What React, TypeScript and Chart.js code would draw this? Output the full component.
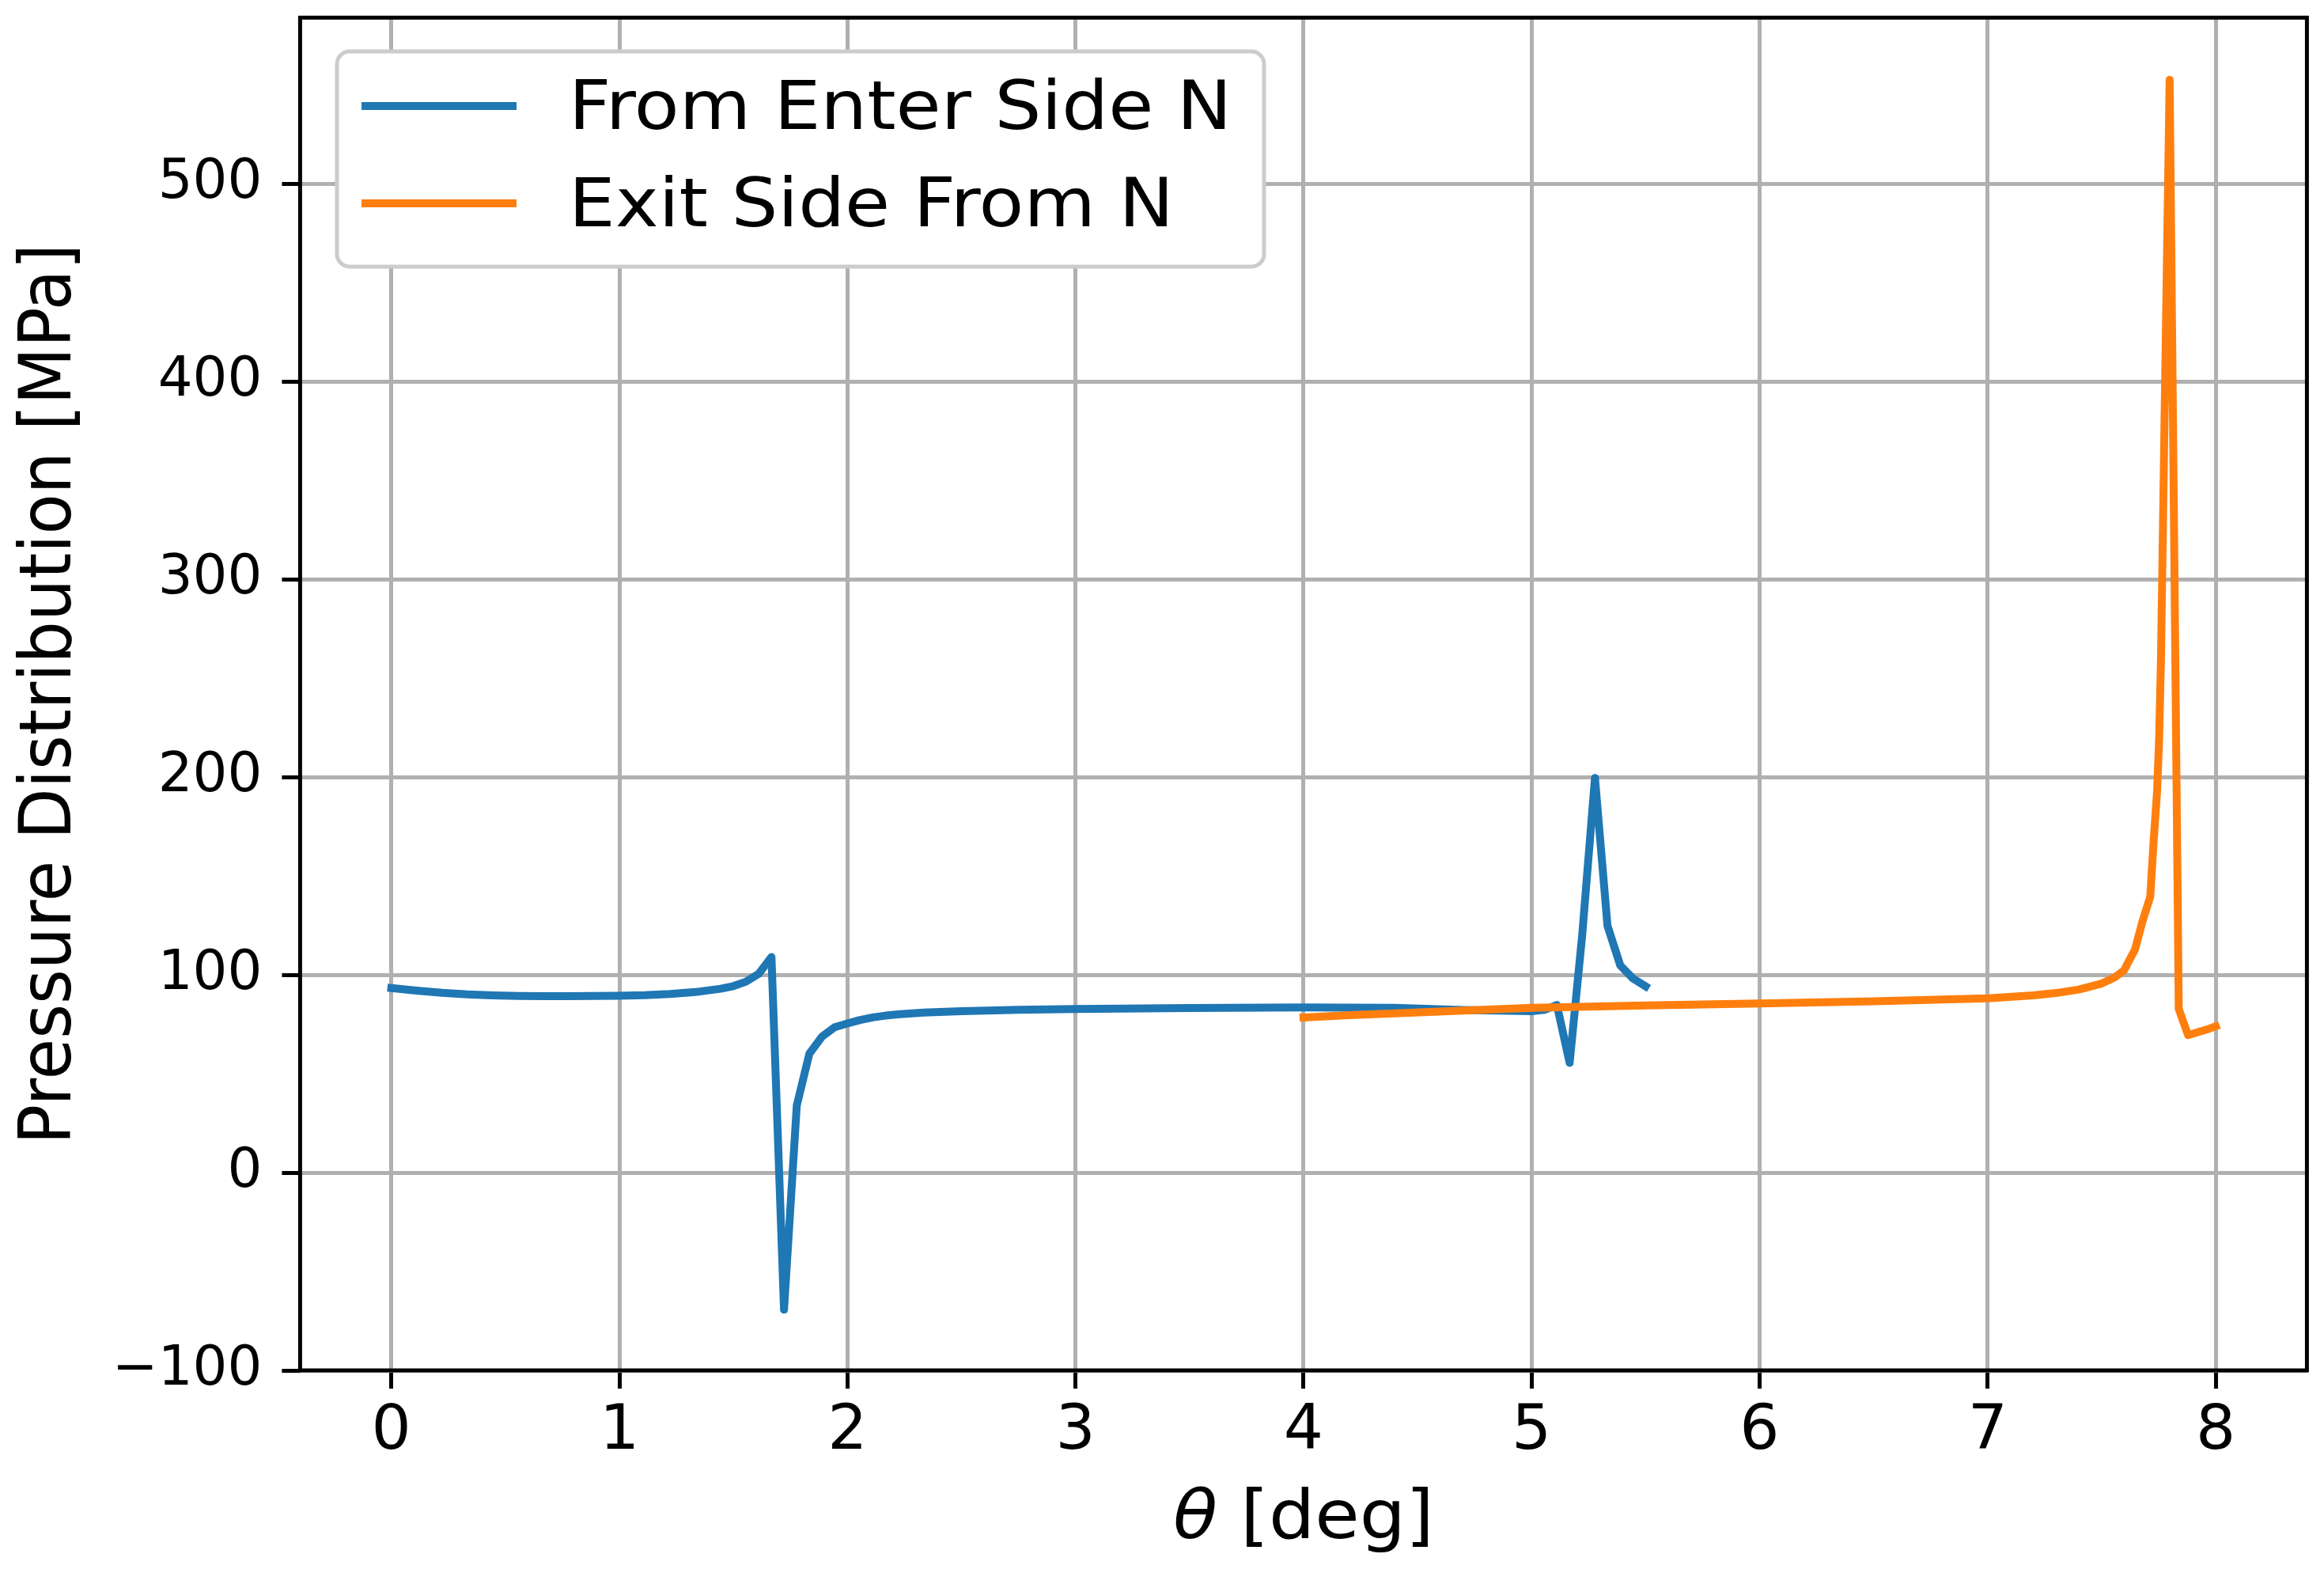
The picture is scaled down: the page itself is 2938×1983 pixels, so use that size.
import React, { useEffect, useRef } from "react";
import { Chart, registerables } from "chart.js";

Chart.register(...registerables);

// ---------------- data ----------------
const blueTheta = [
  0, 0.111, 0.222, 0.333, 0.444, 0.556, 0.667, 0.778, 0.889, 1.0, 1.111, 1.222, 1.333, 1.444, 1.5, 1.556,
  1.611, 1.667, 1.722, 1.778, 1.833, 1.889, 1.944, 2.0, 2.056, 2.111, 2.167, 2.222, 2.333, 2.5, 2.75, 3.0,
  3.5, 4.0, 4.4, 4.7, 5.0, 5.056, 5.111, 5.167, 5.222, 5.278, 5.333, 5.389, 5.444, 5.5,
];
const bluePressure = [
  93.3, 92.0, 90.9, 90.1, 89.6, 89.3, 89.2, 89.2, 89.3, 89.4, 89.7, 90.3, 91.3, 93.0, 94.3, 96.6,
  100.5, 109.0, -69.3, 34.0, 60.1, 68.8, 73.5, 75.4, 77.2, 78.5, 79.4, 80.0, 80.9, 81.6, 82.3, 82.7,
  83.2, 83.5, 83.3, 82.2, 81.6, 82.3, 84.8, 55.5, 120.0, 199.6, 124.8, 104.8, 98.2, 94.2,
];

const orangeTheta = [
  4.0, 4.2, 4.4, 4.7, 5.0, 5.5, 6.0, 6.5, 7.0, 7.2, 7.3, 7.4, 7.5, 7.556, 7.597, 7.646, 7.677, 7.713,
  7.727, 7.743, 7.752, 7.76, 7.798, 7.838, 7.879, 7.919, 7.96, 8.0,
];
const orangePressure = [
  78.4, 79.6, 80.5, 81.9, 83.3, 84.5, 85.5, 86.6, 88.1, 89.6, 90.8, 92.6, 95.6, 98.6, 102.1, 112.8, 126.2,
  139.5, 166.2, 192.8, 219.5, 259.5, 552.6, 82.8, 69.5, 70.9, 72.3, 74.0,
];

const seriesLabels = ["From Enter Side N", "Exit Side From N"];
const seriesColors = ["#1f77b4", "#ff7f0e"];
const xTickValues = [0, 1, 2, 3, 4, 5, 6, 7, 8];
const yTickValues = [-100, 0, 100, 200, 300, 400, 500];
const xTitleSymbol = "θ";
const xTitleRest = " [deg]";
const yTitle = "Pressure Distribution [MPa]";

// ---------------- layout constants ----------------
const W = 2938;
const H = 1983;
const FONT = "'DejaVu Sans'";
const STRETCH = 1.08;
const LINE_W = 10;

function drawStretched(
  ctx: CanvasRenderingContext2D,
  text: string,
  x: number,
  y: number,
  font: string
) {
  ctx.save();
  ctx.font = font;
  ctx.textAlign = "left";
  ctx.textBaseline = "alphabetic";
  ctx.translate(x, y);
  ctx.scale(STRETCH, 1);
  ctx.fillText(text, 0, 0);
  ctx.restore();
}

function roundRect(ctx: CanvasRenderingContext2D, x: number, y: number, w: number, h: number, r: number) {
  ctx.beginPath();
  ctx.moveTo(x + r, y);
  ctx.lineTo(x + w - r, y);
  ctx.arcTo(x + w, y, x + w, y + r, r);
  ctx.lineTo(x + w, y + h - r);
  ctx.arcTo(x + w, y + h, x + w - r, y + h, r);
  ctx.lineTo(x + r, y + h);
  ctx.arcTo(x, y + h, x, y + h - r, r);
  ctx.lineTo(x, y + r);
  ctx.arcTo(x, y, x + r, y, r);
  ctx.closePath();
}

const decorPlugin = {
  id: "decor",
  afterDraw(chart: any) {
    const ctx: CanvasRenderingContext2D = chart.ctx;
    const a = chart.chartArea;
    ctx.save();

    // frame (spines)
    ctx.strokeStyle = "#000000";
    ctx.lineWidth = 5;
    ctx.lineJoin = "miter";
    ctx.strokeRect(a.left, a.top, a.right - a.left, a.bottom - a.top);

    // legend box
    const lx = 426, ly = 65, lw = 1598 - 426, lh = 337 - 65;
    roundRect(ctx, lx, ly, lw, lh, 16);
    ctx.fillStyle = "#ffffff";
    ctx.fill();
    ctx.strokeStyle = "#cccccc";
    ctx.lineWidth = 5;
    ctx.stroke();

    const handleY = [134, 257];
    const textBase = [163.3, 286];
    for (let i = 0; i < seriesLabels.length; i++) {
      ctx.beginPath();
      ctx.strokeStyle = seriesColors[i];
      ctx.lineWidth = LINE_W;
      ctx.lineCap = "butt";
      ctx.moveTo(457, handleY[i]);
      ctx.lineTo(653, handleY[i]);
      ctx.stroke();
      ctx.fillStyle = "#000000";
      drawStretched(ctx, seriesLabels[i], 719, textBase[i], `86px ${FONT}`);
    }

    // x axis title
    ctx.fillStyle = "#000000";
    const fItal = `italic 85px ${FONT}`;
    const fNorm = `85px ${FONT}`;
    ctx.font = fItal;
    const w1 = ctx.measureText(xTitleSymbol).width;
    ctx.font = fNorm;
    const w2 = ctx.measureText(xTitleRest).width;
    const total = (w1 + w2) * STRETCH;
    const cx = (a.left + a.right) / 2;
    const start = cx - total / 2;
    drawStretched(ctx, xTitleSymbol, start, 1944, fItal);
    drawStretched(ctx, xTitleRest, start + w1 * STRETCH, 1944, fNorm);

    // y axis title
    ctx.save();
    ctx.translate(89, (a.top + a.bottom) / 2);
    ctx.scale(STRETCH, 1);
    ctx.rotate(-Math.PI / 2);
    ctx.font = `84px ${FONT}`;
    ctx.textAlign = "center";
    ctx.textBaseline = "alphabetic";
    ctx.fillText(yTitle, 0, 0);
    ctx.restore();

    ctx.restore();
  },
};

const fmtTick = (v: number) => (v < 0 ? "\u2212" + Math.abs(v) : String(v));

export default function App() {
  const ref = useRef<HTMLCanvasElement>(null);

  useEffect(() => {
    document.body.style.margin = "0";
    const canvas = ref.current;
    if (!canvas) return;

    const blueData = blueTheta.map((x, i) => ({ x, y: bluePressure[i] }));
    const orangeData = orangeTheta.map((x, i) => ({ x, y: orangePressure[i] }));

    const lineStyle = {
      borderWidth: LINE_W,
      borderJoinStyle: "round",
      borderCapStyle: "square",
      pointRadius: 0,
      tension: 0,
      fill: false,
    };

    const chart = new Chart(canvas, {
      type: "line",
      data: {
        datasets: [
          {
            label: seriesLabels[0],
            data: blueData,
            borderColor: seriesColors[0],
            backgroundColor: seriesColors[0],
            ...lineStyle,
            order: 2,
          },
          {
            label: seriesLabels[1],
            data: orangeData,
            borderColor: seriesColors[1],
            backgroundColor: seriesColors[1],
            ...lineStyle,
            order: 1,
          },
        ],
      },
      options: {
        animation: false,
        responsive: false,
        devicePixelRatio: 1,
        layout: { padding: { left: 0, top: 22.3, right: 21.6, bottom: 0 } },
        plugins: {
          legend: { display: false },
          tooltip: { enabled: false },
          title: { display: false },
        },
        scales: {
          x: {
            type: "linear",
            min: -0.4,
            max: 8.4,
            afterBuildTicks: (scale: any) => {
              scale.ticks = xTickValues.map((v) => ({ value: v }));
            },
            afterFit: (scale: any) => {
              scale.height = H - 1732;
              scale.paddingLeft = 0;
              scale.paddingRight = 0;
            },
            grid: {
              color: "#b0b0b0",
              lineWidth: 5,
              drawTicks: true,
              tickLength: 23,
              tickWidth: 5,
              tickColor: "#000000",
            },
            border: { display: false },
            ticks: {
              autoSkip: false,
              maxRotation: 0,
              minRotation: 0,
              padding: 16,
              color: "#000000",
              font: { family: "DejaVu Sans", size: 79, lineHeight: 1 },
              callback: (v: any) => fmtTick(Number(v)),
            },
          },
          y: {
            type: "linear",
            min: -100,
            max: 584,
            afterBuildTicks: (scale: any) => {
              scale.ticks = yTickValues.map((v) => ({ value: v }));
            },
            afterFit: (scale: any) => {
              scale.width = 379.4;
              scale.paddingTop = 0;
              scale.paddingBottom = 0;
            },
            grid: {
              color: "#b0b0b0",
              lineWidth: 5,
              drawTicks: true,
              tickLength: 23,
              tickWidth: 5,
              tickColor: "#000000",
            },
            border: { display: false },
            ticks: {
              autoSkip: false,
              padding: 25,
              color: "#000000",
              font: { family: "DejaVu Sans", size: 69, lineHeight: 1 },
              callback: (v: any) => fmtTick(Number(v)),
            },
          },
        },
      },
      plugins: [decorPlugin],
    } as any);

    return () => chart.destroy();
  }, []);

  return (
    <canvas
      ref={ref}
      width={W}
      height={H}
      style={{ display: "block", width: W + "px", height: H + "px" }}
    />
  );
}
